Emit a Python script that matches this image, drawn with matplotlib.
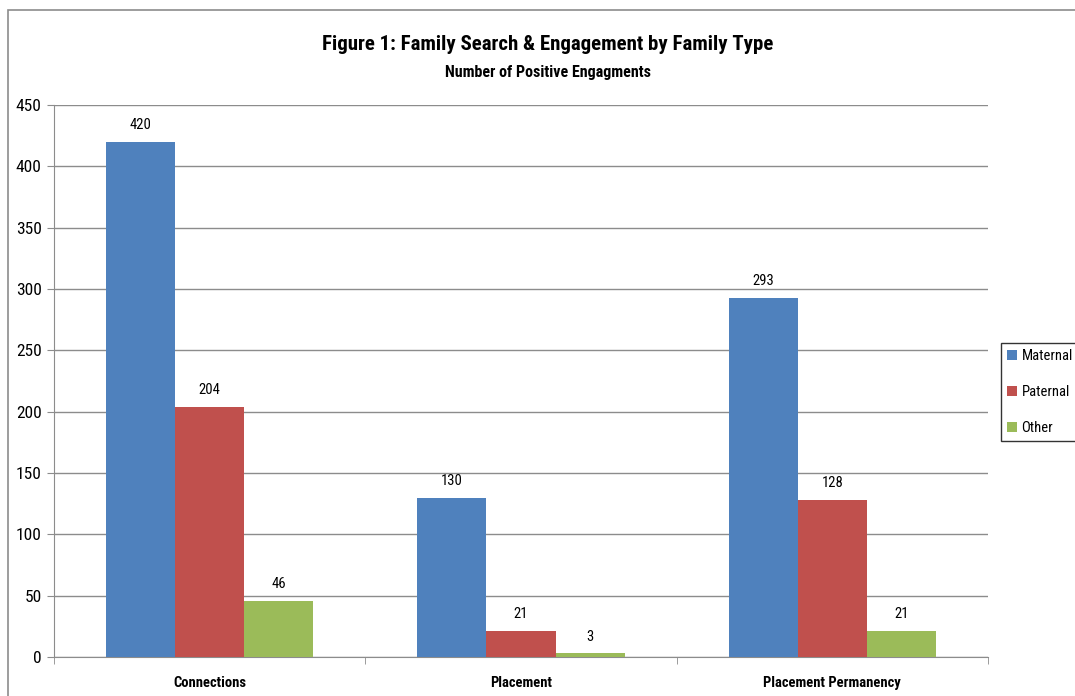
import matplotlib
matplotlib.use("Agg")
import matplotlib.pyplot as plt
from matplotlib.patches import Rectangle
from matplotlib import font_manager as fm
import numpy as np

names = {f.name for f in fm.fontManager.ttflist}
family = 'DejaVu Sans'
stretch = 'normal'
for cand in ['Liberation Sans Narrow', 'Roboto Condensed', 'Open Sans Condensed', 'Noto Sans Condensed']:
    if cand in names:
        family = cand
        break
else:
    if any('DejaVuSansCondensed' in f.fname for f in fm.fontManager.ttflist):
        stretch = 'condensed'
plt.rcParams['font.family'] = [family, 'DejaVu Sans']
plt.rcParams['font.stretch'] = stretch

categories = ["Connections", "Placement", "Placement Permanency"]
series_names = ["Maternal", "Paternal", "Other"]
maternal = [420, 130, 293]
paternal = [204, 21, 128]
other = [46, 3, 21]
colors = ["#4F81BD", "#C0504D", "#9BBB59"]
yticks = [0, 50, 100, 150, 200, 250, 300, 350, 400, 450]

fig = plt.figure(figsize=(10.75, 6.96), dpi=100)
ax = fig.add_axes([54/1075, 1-657/696, 934/1075, 552/696])

# outer chart border
fig.patches.append(Rectangle((8/1075, -0.05), 1.1, 1-10/696+0.05, transform=fig.transFigure,
                             fill=False, edgecolor="#8c8c8c", lw=1.2, zorder=0))

x = np.arange(len(categories))
w = 0.222
for i, (vals, c, name) in enumerate(zip([maternal, paternal, other], colors, series_names)):
    bars = ax.bar(x + (i - 1) * w, vals, width=w, color=c, label=name, zorder=3)
    for b, v in zip(bars, vals):
        ax.text(b.get_x() + b.get_width()/2, v + 8, str(v), ha="center", va="bottom",
                fontsize=10.5, zorder=4)

ax.set_xlim(-0.5, 2.5)
ax.set_ylim(0, 450)
ax.set_yticks(yticks)
ax.set_yticklabels([str(t) for t in yticks], fontsize=12.5)
ax.yaxis.grid(True, color="#8c8c8c", lw=1)
ax.set_axisbelow(True)
ax.set_xticks(x)
ax.set_xticklabels(categories, fontsize=10.5, fontweight="bold")
ax.tick_params(axis="x", length=0, pad=14)
ax.set_xticks([-0.5, 0.5, 1.5, 2.5], minor=True)
ax.tick_params(axis="x", which="minor", length=5, color="#8c8c8c")
ax.tick_params(axis="y", length=5, color="#8c8c8c", pad=4)
for s in ["top", "right"]:
    ax.spines[s].set_visible(False)
ax.spines["left"].set_color("#8c8c8c")
ax.spines["bottom"].set_color("#8c8c8c")

fig.text(548/1075, 1-44/696, "Figure 1: Family Search & Engagement by Family Type",
         ha="center", va="center", fontsize=15, fontweight="bold")
fig.text(548/1075, 1-72/696, "Number of Positive Engagments",
         ha="center", va="center", fontsize=11.5, fontweight="bold")

leg = fig.legend(loc="center left", bbox_to_anchor=(1001/1075, 1-392/696), fontsize=10.5,
                 frameon=True, fancybox=False, edgecolor="black", handlelength=0.7,
                 handleheight=0.7, handletextpad=0.3, labelspacing=1.5, borderpad=0.4,
                 borderaxespad=0)
leg.get_frame().set_linewidth(1)

fig.savefig("out.png", dpi=100)
